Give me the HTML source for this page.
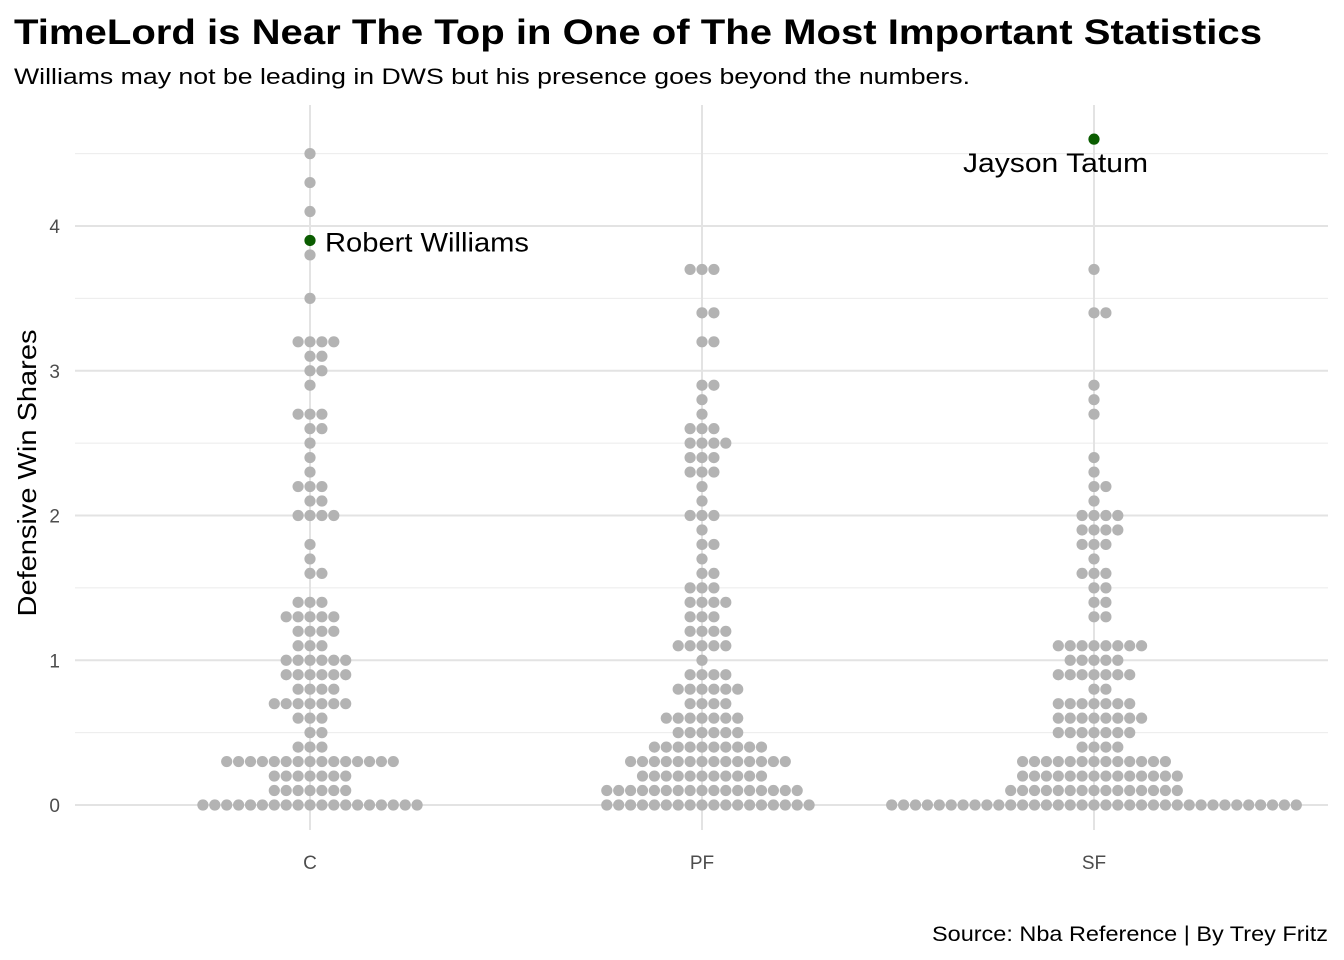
<!DOCTYPE html>
<html><head><meta charset="utf-8"><style>
html,body{margin:0;padding:0;background:#fff;}
svg{display:block;font-family:"Liberation Sans",Arial,sans-serif;}
</style></head><body>
<svg id="chart" width="1344" height="960" viewBox="0 0 1344 960">
<text x="14" y="44" font-size="35" font-weight="bold" fill="#000" textLength="1248" lengthAdjust="spacingAndGlyphs">TimeLord is Near The Top in One of The Most Important Statistics</text>
<text x="14" y="84" font-size="22" fill="#000" textLength="956" lengthAdjust="spacingAndGlyphs">Williams may not be leading in DWS but his presence goes beyond the numbers.</text>
<g id="grid"></g>
<g id="dots"></g>
<g id="axes"></g>
<text transform="translate(36,473) rotate(-90)" text-anchor="middle" font-size="26" fill="#000" textLength="287" lengthAdjust="spacingAndGlyphs">Defensive Win Shares</text>
<text x="1328" y="941" text-anchor="end" font-size="21" fill="#000" textLength="396" lengthAdjust="spacingAndGlyphs">Source: Nba Reference | By Trey Fritz</text>
</svg>
<script>
const categories = ["C","PF","SF"];
const cValues = [4.5,4.3,4.1,3.8,3.5,3.2,3.1,3.0,2.9,2.7,2.6,2.5,2.4,2.3,2.2,2.1,2.0,1.8,1.7,1.6,1.4,1.3,1.2,1.1,1.0,0.9,0.8,0.7,0.6,0.5,0.4,0.3,0.2,0.1,0];
const cCounts = [1,1,1,1,1,4,2,2,1,3,2,1,1,1,3,2,4,1,1,2,3,5,4,3,6,6,4,7,3,2,3,15,7,7,19];
const pfValues = [3.7,3.4,3.2,2.9,2.8,2.7,2.6,2.5,2.4,2.3,2.2,2.1,2.0,1.9,1.8,1.7,1.6,1.5,1.4,1.3,1.2,1.1,1.0,0.9,0.8,0.7,0.6,0.5,0.4,0.3,0.2,0.1,0];
const pfCounts = [3,2,2,2,1,1,3,4,3,3,1,1,3,1,2,1,2,3,4,3,4,5,1,4,6,4,7,6,10,14,11,17,18];
const sfValues = [3.7,3.4,2.9,2.8,2.7,2.4,2.3,2.2,2.1,2.0,1.9,1.8,1.7,1.6,1.5,1.4,1.3,1.1,1.0,0.9,0.8,0.7,0.6,0.5,0.4,0.3,0.2,0.1,0];
const sfCounts = [1,2,1,1,1,1,1,2,1,4,4,3,1,3,2,2,2,8,5,7,2,7,8,7,4,13,14,15,35];
const highlightNames = ["Robert Williams","Jayson Tatum"];
const highlightCats = ["C","SF"];
const highlightValues = [3.9,4.6];
const yTicks = [0,1,2,3,4];
const yMinor = [0.5,1.5,2.5,3.5,4.5];

const NS="http://www.w3.org/2000/svg";
const plotL=75, plotR=1328, plotT=105;
function yScale(v){return 805 - v*144.75;}
function xScale(c){return 310 + categories.indexOf(c)*392;}
const step=11.9, r=5.6;
function mk(tag,attrs,parent){const e=document.createElementNS(NS,tag);for(const k in attrs)e.setAttribute(k,attrs[k]);parent.appendChild(e);return e;}
const grid=document.getElementById('grid'), dots=document.getElementById('dots'), axes=document.getElementById('axes');
yMinor.forEach(v=>{const l=mk('line',{x1:plotL,x2:plotR,y1:yScale(v),y2:yScale(v),stroke:'#ebebeb','stroke-width':1},grid);

});
yTicks.forEach(v=>{const l=mk('line',{x1:plotL,x2:plotR,y1:yScale(v),y2:yScale(v),stroke:'#e3e3e3','stroke-width':2},grid);


const t=mk('text',{x:60,y:yScale(v)+7,'text-anchor':'end','font-size':19,fill:'#4d4d4d'},axes);t.textContent=v;

});
categories.forEach(c=>{const l=mk('line',{x1:xScale(c),x2:xScale(c),y1:plotT,y2:830,stroke:'#e3e3e3','stroke-width':2},grid);


const t=mk('text',{x:xScale(c),y:869,'text-anchor':'middle','font-size':19,fill:'#4d4d4d'},axes);t.textContent=c;

});
function drawCat(c,vals,counts){vals.forEach((v,i)=>{const n=counts[i];const start=-Math.floor((n-1)/2);
for(let k=0;k<n;k++){const d=mk('circle',{cx:xScale(c)+(start+k)*step,cy:yScale(v),r:r,fill:'#b3b3b3'},dots);

}});}
drawCat("C",cValues,cCounts);drawCat("PF",pfValues,pfCounts);drawCat("SF",sfValues,sfCounts);
highlightNames.forEach((nm,i)=>{const x=xScale(highlightCats[i]),y=yScale(highlightValues[i]);
const d=mk('circle',{cx:x,cy:y,r:r,fill:'#0a5c00'},dots);


let t;
if(i===0){t=mk('text',{x:x+15,y:y+11,'font-size':27,fill:'#000',textLength:204,lengthAdjust:'spacingAndGlyphs'},dots);}
else{t=mk('text',{x:x-131,y:y+33,'font-size':27,fill:'#000',textLength:185,lengthAdjust:'spacingAndGlyphs'},dots);}
t.textContent=nm;

});
</script>
</body></html>
